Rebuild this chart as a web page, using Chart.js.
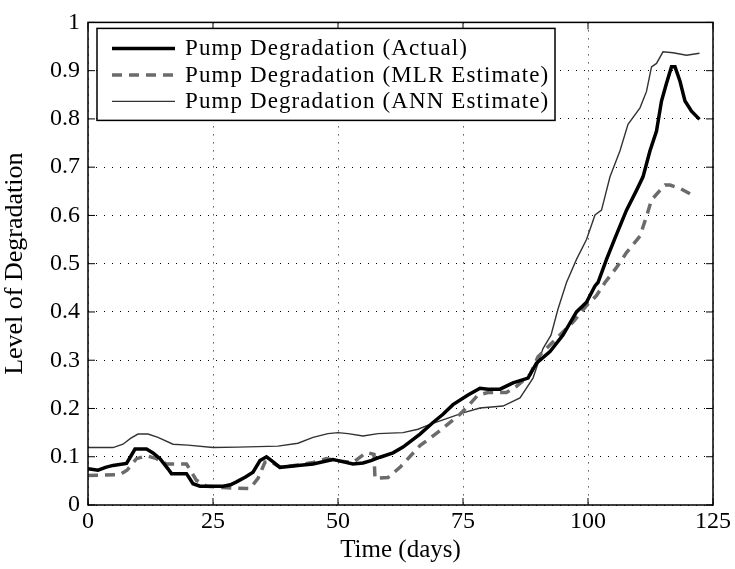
<!DOCTYPE html>
<html>
<head>
<meta charset="utf-8">
<script src="https://cdn.jsdelivr.net/npm/chart.js@4.4.1/dist/chart.umd.min.js"></script>
<style>
  html, body { margin: 0; padding: 0; background: #fff; }
  #wrap { width: 735px; height: 569px; }
</style>
</head>
<body>
<div id="wrap"><canvas id="degChart" width="735" height="569"></canvas></div>
<script>
// tick values and labels
const xTicks = [0, 25, 50, 75, 100, 125];
const yTicks = [0, 0.1, 0.2, 0.3, 0.4, 0.5, 0.6, 0.7, 0.8, 0.9, 1];
const yTickLabels = ["0", "0.1", "0.2", "0.3", "0.4", "0.5", "0.6", "0.7", "0.8", "0.9", "1"];

const seriesLabels = [
  "Pump Degradation (Actual)",
  "Pump Degradation (MLR Estimate)",
  "Pump Degradation (ANN Estimate)"
];

// [day, level]
const actual = [
  [0,0.075],[2,0.072],[3.5,0.078],[5,0.082],[7.7,0.086],[8.5,0.1],[9.4,0.116],[11.7,0.116],
  [13,0.108],[14.4,0.096],[16,0.075],[16.7,0.065],[19.7,0.065],[21,0.044],[22.4,0.039],[27,0.039],
  [28.5,0.042],[29.7,0.048],[31.5,0.058],[33,0.068],[34.4,0.092],[35.7,0.1],[36.7,0.092],[38.4,0.078],
  [42,0.082],[45,0.085],[49,0.094],[50,0.092],[53,0.085],[55,0.087],[56.6,0.092],[58.4,0.099],
  [61,0.108],[63,0.12],[66.4,0.147],[69,0.171],[71,0.188],[73,0.208],[76,0.228],[78.4,0.242],
  [80,0.24],[82.4,0.24],[85,0.253],[88,0.263],[89.7,0.294],[92.4,0.318],[95,0.352],[97.7,0.4],
  [99.7,0.42],[101.4,0.454],[102,0.461],[103.7,0.509],[105.4,0.553],[107.7,0.611],[109.7,0.652],
  [111,0.68],[112.4,0.734],[113.7,0.775],[114.7,0.837],[115.7,0.874],[116.7,0.908],[117.4,0.908],
  [118.4,0.878],[119.4,0.837],[120.7,0.816],[122.3,0.799]
];

const mlr = [
  [0,0.061],[3,0.062],[6.4,0.063],[7.8,0.072],[9.7,0.096],[11.7,0.102],[13.7,0.096],[15.7,0.085],
  [19.7,0.085],[21.7,0.051],[23.7,0.039],[27,0.036],[32.4,0.034],[34,0.055],[35.4,0.089],[36.5,0.09],
  [38.4,0.078],[42,0.083],[45,0.088],[47.7,0.096],[49.7,0.092],[53,0.088],[55.7,0.109],[57.2,0.105],
  [57.4,0.055],[60,0.057],[62.4,0.078],[66.4,0.123],[70.4,0.154],[74.4,0.188],[76,0.205],[78,0.228],
  [80,0.233],[83.7,0.233],[85.7,0.246],[88.4,0.27],[90,0.307],[93.7,0.345],[97,0.379],[99.7,0.413],
  [101.7,0.434],[103.4,0.461],[105.7,0.492],[107.7,0.523],[110.4,0.557],[111.7,0.598],[112.7,0.632],
  [114.4,0.652],[115.4,0.663],[116.4,0.663],[118.4,0.656],[120.4,0.645]
];

const ann = [
  [0,0.119],[5,0.119],[7,0.126],[8.5,0.138],[10,0.147],[12,0.147],[14,0.14],[17,0.126],[20,0.124],
  [25,0.119],[30,0.12],[38,0.122],[42,0.128],[45,0.14],[48,0.148],[50,0.15],[52,0.148],[55,0.143],
  [58,0.148],[63,0.15],[66,0.157],[68.4,0.167],[72,0.18],[75,0.191],[78.4,0.201],[83,0.205],
  [86.4,0.222],[89,0.263],[91,0.324],[92.6,0.352],[94,0.406],[95.7,0.461],[97.7,0.509],[99.7,0.55],
  [101.4,0.601],[102.7,0.611],[104.4,0.68],[106.4,0.734],[108,0.789],[110.4,0.823],[111.7,0.857],
  [112.7,0.908],[113.7,0.915],[115,0.939],[117,0.937],[119.7,0.932],[122.3,0.936]
];

const toPoints = arr => arr.map(p => ({ x: p[0], y: p[1] }));
const serif = "'Liberation Serif', 'DejaVu Serif', serif";

// box, inward ticks and legend drawn over the plot
const framePlugin = {
  id: "frame",
  afterDraw(chart) {
    const ctx = chart.ctx, a = chart.chartArea;
    const xs = chart.scales.x, ys = chart.scales.y;
    ctx.save();
    ctx.strokeStyle = "#000";
    ctx.lineWidth = 1.5;
    ctx.strokeRect(a.left, a.top, a.right - a.left, a.bottom - a.top);
    ctx.lineWidth = 1;
    const tl = 7;
    ctx.beginPath();
    xTicks.forEach(v => {
      const px = xs.getPixelForValue(v);
      ctx.moveTo(px, a.bottom); ctx.lineTo(px, a.bottom - tl);
      ctx.moveTo(px, a.top); ctx.lineTo(px, a.top + tl);
    });
    yTicks.forEach(v => {
      const py = ys.getPixelForValue(v);
      ctx.moveTo(a.left, py); ctx.lineTo(a.left + tl, py);
      ctx.moveTo(a.right, py); ctx.lineTo(a.right - tl, py);
    });
    ctx.stroke();

    // legend
    const lx = a.left + 9, ly = a.top + 6, lw = 458, lh = 92;
    ctx.fillStyle = "#fff";
    ctx.fillRect(lx, ly, lw, lh);
    ctx.lineWidth = 1.5;
    ctx.strokeRect(lx, ly, lw, lh);
    ctx.font = "23px " + serif;
    ctx.letterSpacing = "1.1px";
    ctx.textBaseline = "middle";
    chart.data.datasets.forEach((ds, i) => {
      const y = ly + 20 + i * 26.5;
      ctx.beginPath();
      ctx.strokeStyle = ds.borderColor;
      ctx.lineWidth = ds.borderWidth;
      ctx.setLineDash(ds.borderDash || []);
      ctx.moveTo(lx + 15, y); ctx.lineTo(lx + 78, y);
      ctx.stroke();
      ctx.setLineDash([]);
      ctx.fillStyle = "#000";
      ctx.fillText(ds.label, lx + 88, y + 1);
    });
    ctx.restore();
  }
};

const ctx = document.getElementById("degChart").getContext("2d");
const degChart = new Chart(ctx, {
  type: "line",
  data: {
    datasets: [{
      label: seriesLabels[0],
      data: toPoints(actual),
      borderColor: "#000",
      borderWidth: 3.5,
      pointRadius: 0,
      tension: 0,
      order: 1
    }, {
      label: seriesLabels[1],
      data: toPoints(mlr),
      borderColor: "#6b6b6b",
      borderWidth: 3.5,
      borderDash: [10, 7],
      pointRadius: 0,
      tension: 0,
      order: 2
    }, {
      label: seriesLabels[2],
      data: toPoints(ann),
      borderColor: "#333",
      borderWidth: 1.4,
      pointRadius: 0,
      tension: 0,
      order: 3
    }]
  },
  options: {
    responsive: false,
    animation: false,
    layout: { padding: { top: 17, right: 22, left: 0, bottom: 0 } },
    plugins: { legend: { display: false }, tooltip: { enabled: false } },
    scales: {
      x: {
        type: "linear",
        min: 0,
        max: 125,
        afterBuildTicks: s => { s.ticks = xTicks.map(v => ({ value: v })); },
        afterFit: s => { s.height = 64; },
        ticks: { color: "#000", font: { family: serif, size: 24 }, padding: 2, maxRotation: 0 },
        grid: { color: "#000", lineWidth: 1, drawTicks: false },
        border: { display: false, dash: [1, 7] },
        title: { display: true, text: "Time (days)", color: "#000", font: { family: serif, size: 25 }, padding: { top: 0, bottom: 4 } }
      },
      y: {
        min: 0,
        max: 1,
        afterBuildTicks: s => { s.ticks = yTicks.map(v => ({ value: v })); },
        afterFit: s => { s.width = 88; },
        ticks: {
          color: "#000", font: { family: serif, size: 24 }, padding: 8,
          callback: (v, i) => yTickLabels[i]
        },
        grid: { color: "#000", lineWidth: 1, drawTicks: false },
        border: { display: false, dash: [1, 7] },
        title: { display: true, text: "Level of Degradation", color: "#000", font: { family: serif, size: 26 }, padding: { top: 0, bottom: 2 } }
      }
    }
  },
  plugins: [framePlugin]
});
</script>
</body>
</html>
